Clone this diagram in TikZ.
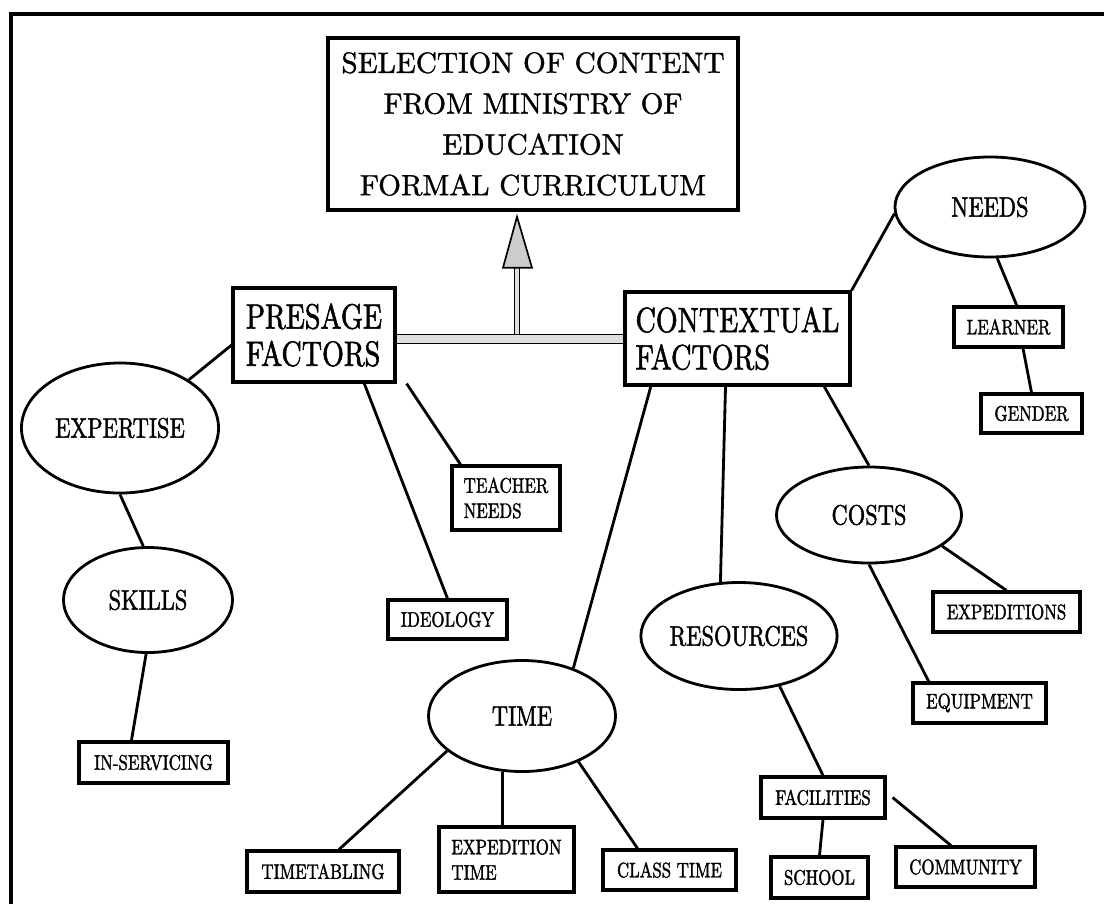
\documentclass[tikz,border=0pt]{standalone}
\usepackage{fontspec}
\newfontfamily\narrowfont{lmroman10-regular.otf}[FakeStretch=0.8,FakeBold=1.5]
\newfontfamily\headfont{lmroman10-regular.otf}[FakeBold=1.2]
\usetikzlibrary{calc,shapes.geometric}
\newcommand{\titlefont}{\headfont\fontsize{20.8}{29}\selectfont}
\newcommand{\factorfont}{\narrowfont\fontsize{25}{26.5}\selectfont}
\newcommand{\ovalfont}{\narrowfont\fontsize{20}{22}\selectfont}
\newcommand{\leaffont}{\narrowfont\fontsize{15}{18}\selectfont}
\tikzset{myline/.style={black,line width=2pt}}
\tikzset{mybox/.style={draw,line width=2.2pt,inner sep=1pt,align=left,font=\leaffont}}
\tikzset{myoval/.style={draw,ellipse,line width=2pt,inner sep=0pt,font=\ovalfont}}
\tikzset{barline/.style={line width=1.2pt,double=black!12,double distance=5pt}}

\begin{document}
\begin{tikzpicture}[x=0.025cm,y=-0.025cm]
	\useasboundingbox (0,0) rectangle (1104,904);
	\draw[line width=2.4pt] (11,904) -- (11,14) -- (1104,14); % frame

	\node[mybox,font=\titlefont,align=center,line width=2.4pt,minimum width=10.25cm,minimum height=4.3cm] (title) at (533,124) {SELECTION OF CONTENT\\FROM MINISTRY OF\\EDUCATION\\FORMAL CURRICULUM};
	\node[mybox,font=\factorfont,minimum width=4.05cm,minimum height=2.35cm] (presage) at (314,335) {PRESAGE\\FACTORS};
	\node[mybox,font=\factorfont,minimum width=5.625cm,minimum height=2.325cm] (contextual) at (737.5,338.5) {CONTEXTUAL\\FACTORS};

	% ovals
	\node[myoval,minimum width=4.75cm,minimum height=2.5cm] (needs) at (990,207) {NEEDS};
	\node[myoval,minimum width=4.925cm,minimum height=3.25cm] (expertise) at (120,428) {EXPERTISE};
	\node[myoval,minimum width=4.225cm,minimum height=2.625cm] (skills) at (148,600) {SKILLS};
	\node[myoval,minimum width=4.675cm,minimum height=2.775cm] (time) at (522,716) {TIME};
	\node[myoval,minimum width=4.875cm,minimum height=2.675cm] (resources) at (739,636) {RESOURCES};
	\node[myoval,minimum width=4.625cm,minimum height=2.4cm] (costs) at (869,515) {COSTS};

	% small boxes
	\node[mybox,minimum width=2.7cm,minimum height=1.6cm] (teacher) at (506,498) {TEACHER\\NEEDS};
	\node[mybox,minimum width=2.975cm,minimum height=0.975cm] (ideology) at (447.5,619.5) {IDEOLOGY};
	\node[mybox,minimum width=3.725cm,minimum height=1.025cm] (inserv) at (153.5,762.5) {IN-SERVICING};
	\node[mybox,minimum width=3.8cm,minimum height=1.025cm] (timetabling) at (323,871.5) {TIMETABLING};
	\node[mybox,minimum width=3.375cm,minimum height=1.625cm] (exptime) at (506.5,859.5) {EXPEDITION\\TIME};
	\node[mybox,minimum width=3.325cm,minimum height=1cm] (classtime) at (669.5,870) {CLASS TIME};
	\node[mybox,minimum width=3.1cm,minimum height=1.025cm] (facilities) at (823,797.5) {FACILITIES};
	\node[mybox,minimum width=2.425cm,minimum height=1.025cm] (school) at (819.5,877.5) {SCHOOL};
	\node[mybox,minimum width=3.475cm,minimum height=1cm] (community) at (965.5,867) {COMMUNITY};
	\node[mybox,minimum width=3.325cm,minimum height=1cm] (equipment) at (979.5,703) {EQUIPMENT};
	\node[mybox,minimum width=3.675cm,minimum height=1cm] (expeditions) at (1006.5,612) {EXPEDITIONS};
	\node[mybox,minimum width=2.725cm,minimum height=1cm] (learner) at (1008.5,327) {LEARNER};
	\node[mybox,minimum width=2.525cm,minimum height=0.975cm] (gender) at (1031.5,413.5) {GENDER};

	% bar and arrow
	\coordinate (junction) at (517,339);
	\coordinate (tip) at ($(junction |- title.south)+(0,5)$);
	\draw[barline] (junction -| presage.east) -- (junction -| contextual.west);
	\draw[barline,double distance=2.4pt] ($(junction)+(0,-5)$) -- ($(tip)+(0,50)$);
	\filldraw[fill=black!20,line width=1.2pt] (tip) -- ++(-14,51) -- ++(29,0) -- cycle;

	\draw[myline] (presage.187) -- (expertise.35);
	\draw[myline] (expertise.270) -- (skills.95);
	\draw[myline] (skills.268) -- (inserv.135);
	\draw[myline] (presage.-44) -- (ideology.north);
	\draw[myline] ([xshift=0.25cm]presage.south east) -- ([xshift=0.25cm]teacher.north west);

	\draw[myline] (contextual.north east) -- (needs.184);
	\draw[myline] (needs.-82) -- (learner.69);
	\draw[myline] (learner.-56) -- (gender.north);
	\draw[myline] (contextual.-151.5) -- (time.43);
	\draw[myline] (contextual.-104) -- (resources.109);
	\draw[myline] (contextual.-29.4) -- (costs.north);
	\draw[myline] (costs.-23) -- (expeditions.north);
	\draw[myline] (costs.south) -- (equipment.157);
	\draw[myline] (resources.-51.5) -- (facilities.north);
	\draw[myline] (facilities.south) -- (school.north);
	\draw[myline] ([xshift=0.15cm]facilities.east) -- (community.124);
	\draw[myline] (time.205) -- (timetabling.54);
	\draw[myline] (time.251) -- (time.251 |- exptime.north);
	\draw[myline] (time.-39) -- (classtime.146);

\end{tikzpicture}
\end{document}
